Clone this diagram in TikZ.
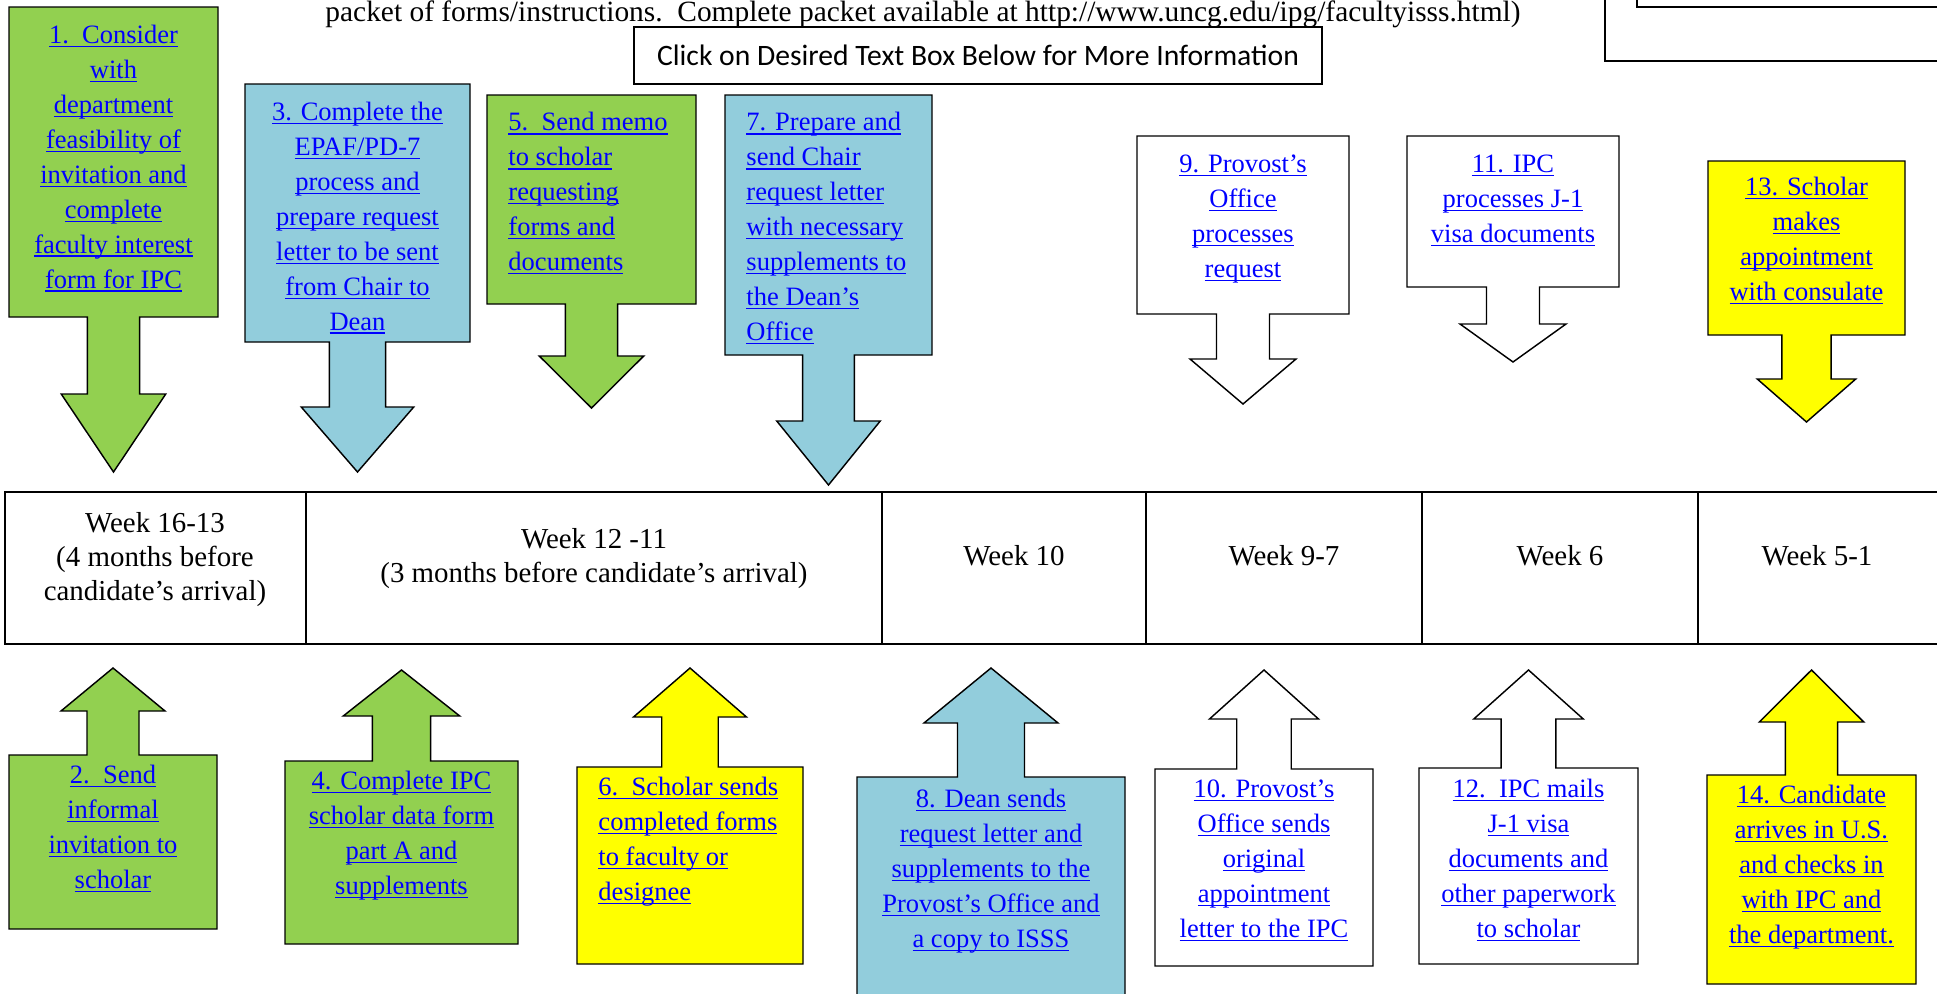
\documentclass[tikz,border=0pt]{standalone}
\usepackage{fontspec}
\setmainfont{Liberation Serif}
\newfontfamily\calibri{Carlito}
\usepackage{tikz}
\usetikzlibrary{positioning}
\definecolor{linkblue}{RGB}{0,0,255}
\definecolor{taskgreen}{RGB}{146,208,80}
\definecolor{taskblue}{RGB}{146,205,220}
\definecolor{taskyellow}{RGB}{255,255,0}
\newsavebox{\lnkbox}
\newcommand{\lnk}[1]{\sbox{\lnkbox}{#1}\rlap{\rule[-1.5pt]{\wd\lnkbox}{0.5pt}}\usebox{\lnkbox}}
% box with an arrow on one edge: style, x1, x2, far edge y, arrow edge y, head y, tip y
\newcommand{\callout}[7]{%
    \pgfmathsetmacro{\calx}{(#2+#3)/2}
    \pgfmathsetmacro{\calsw}{(#3-#2)/8}
    \pgfmathsetmacro{\calhw}{(#3-#2)/4}
    \draw[#1] (#2,#4) -- (#3,#4) -- (#3,#5) -- (\calx+\calsw,#5) -- (\calx+\calsw,#6)
        -- (\calx+\calhw,#6) -- (\calx,#7) -- (\calx-\calhw,#6) -- (\calx-\calsw,#6)
        -- (\calx-\calsw,#5) -- (#2,#5) -- cycle;
}
\tikzset{
    gbox/.style={draw=black, fill=taskgreen, line width=0.6pt, line join=miter},
    bbox/.style={draw=black, fill=taskblue, line width=0.6pt, line join=miter},
    ybox/.style={draw=black, fill=taskyellow, line width=0.6pt, line join=miter},
    wbox/.style={draw=black, fill=white, line width=0.6pt, line join=miter},
    txt/.style={anchor=north, align=center, inner sep=0pt, text=linkblue, font=\fontsize{11}{14.5}\selectfont},
    txtl/.style={txt, anchor=north west, align=left},
    week/.style={align=center, inner sep=0pt, font=\fontsize{12}{14.1}\selectfont},
}

\begin{document}
\begin{tikzpicture}[x=0.415pt, y=-0.415pt]
    \useasboundingbox (0,0) rectangle (1937,993);
    % heading
    \node[anchor=base west, inner sep=0pt, font=\fontsize{12.2}{14.1}\selectfont] (hdr) at (325,21)
        {packet of forms/instructions.\ \ Complete packet available at http://www.uncg.edu/ipg/facultyisss.html)};
    \node[draw, line width=0.6pt, minimum width=285.5pt, minimum height=23.7pt, inner sep=0pt,
        font=\calibri\fontsize{12.3}{14}\selectfont] (click) at (978,55.5)
        {Click on Desired Text Box Below for More Information};
    \draw[line width=0.8pt] (1605,-10) rectangle (1950,61);
    \draw[line width=0.8pt] (1637,-10) rectangle (1950,7);

    % timeline
    \draw[line width=1pt] (5,492) rectangle (1950,644);
    \foreach \xd in {306,882,1146,1422,1698}
        \draw[line width=1pt] (\xd,492) -- (\xd,644);
    \node[week, anchor=north] (w1) at (155,508) {\strut Week 16-13\\(4 months before\\candidate’s arrival)};
    \node[week, anchor=north] (w2) at (594,524) {\strut Week 12 -11\\(3 months before candidate’s arrival)};
    \node[week, anchor=base] (w3) at (1014,565) {Week 10};
    \node[week, anchor=base] (w4) at (1284,565) {Week 9-7};
    \node[week, anchor=base] (w5) at (1560,565) {Week 6};
    \node[week, anchor=base] (w6) at (1817,565) {Week 5-1};

    % steps above the timeline
    \callout{gbox}{9}{218}{7}{317}{394}{472}
    \node[txt] (s1) at (113.5,18.5) {\strut\lnk{1.~~Consider}\\\lnk{with}\\\lnk{department}\\\lnk{feasibility of}\\\lnk{invitation and}\\\lnk{complete}\\\lnk{faculty interest}\\\lnk{form for IPC}};
    \callout{bbox}{245}{470}{84}{342}{407}{472}
    \node[txt] (s3) at (357.5,95.5) {\strut\lnk{3. Complete the}\\\lnk{EPAF/PD-7}\\\lnk{process and}\\\lnk{prepare request}\\\lnk{letter to be sent}\\\lnk{from Chair to}\\\lnk{Dean}};
    \callout{gbox}{487}{696}{95}{304}{356}{408}
    \node[txtl] (s5) at (508,106) {\strut\lnk{5.~~Send memo}\\\lnk{to scholar}\\\lnk{requesting}\\\lnk{forms and}\\\lnk{documents}};
    \callout{bbox}{725}{932}{95}{355}{421}{485}
    \node[txtl] (s7) at (746,106) {\strut\lnk{7. Prepare and}\\\lnk{send Chair}\\\lnk{request letter}\\\lnk{with necessary}\\\lnk{supplements to}\\\lnk{the Dean’s}\\\lnk{Office}};
    \callout{wbox}{1137}{1349}{136}{314}{359}{404}
    \node[txt] (s9) at (1243,147.5) {\strut\lnk{9. Provost’s}\\\lnk{Office}\\\lnk{processes}\\\lnk{request}};
    \callout{wbox}{1407}{1619}{136}{287}{324}{362}
    \node[txt] (s11) at (1513,147.5) {\strut\lnk{11. IPC}\\\lnk{processes J-1}\\\lnk{visa documents}};
    \callout{ybox}{1708}{1905}{161}{335}{379}{422}
    \node[txt] (s13) at (1806.5,170.5) {\strut\lnk{13. Scholar}\\\lnk{makes}\\\lnk{appointment}\\\lnk{with consulate}};

    % steps below the timeline
    \callout{gbox}{9}{217}{929}{755}{711}{668}
    \node[txt] (s2) at (113,758.5) {\strut\lnk{2.~~Send}\\\lnk{informal}\\\lnk{invitation to}\\\lnk{scholar}};
    \callout{gbox}{285}{518}{944}{761}{716}{670}
    \node[txt] (s4) at (401.5,764.5) {\strut\lnk{4. Complete IPC}\\\lnk{scholar data form}\\\lnk{part A and}\\\lnk{supplements}};
    \callout{ybox}{577}{803}{964}{767}{717}{668}
    \node[txtl] (s6) at (598,770.5) {\strut\lnk{6.~~Scholar sends}\\\lnk{completed forms}\\\lnk{to faculty or}\\\lnk{designee}};
    \callout{bbox}{857}{1125}{1000}{777}{723}{668}
    \node[txt] (s8) at (991,782.5) {\strut\lnk{8. Dean sends}\\\lnk{request letter and}\\\lnk{supplements to the}\\\lnk{Provost’s Office and}\\\lnk{a copy to ISSS}};
    \callout{wbox}{1155}{1373}{966}{769}{719}{670}
    \node[txt] (s10) at (1264,772.5) {\strut\lnk{10. Provost’s}\\\lnk{Office sends}\\\lnk{original}\\\lnk{appointment}\\\lnk{letter to the IPC}};
    \callout{wbox}{1419}{1638}{964}{768}{719}{670}
    \node[txt] (s12) at (1528.5,772.5) {\strut\lnk{12.~~IPC mails}\\\lnk{J-1 visa}\\\lnk{documents and}\\\lnk{other paperwork}\\\lnk{to scholar}};
    \callout{ybox}{1707}{1916}{984}{775}{722}{670}
    \node[txt] (s14) at (1811.5,778.5) {\strut\lnk{14. Candidate}\\\lnk{arrives in U.S.}\\\lnk{and checks in}\\\lnk{with IPC and}\\\lnk{the department.}};
\end{tikzpicture}
\end{document}
